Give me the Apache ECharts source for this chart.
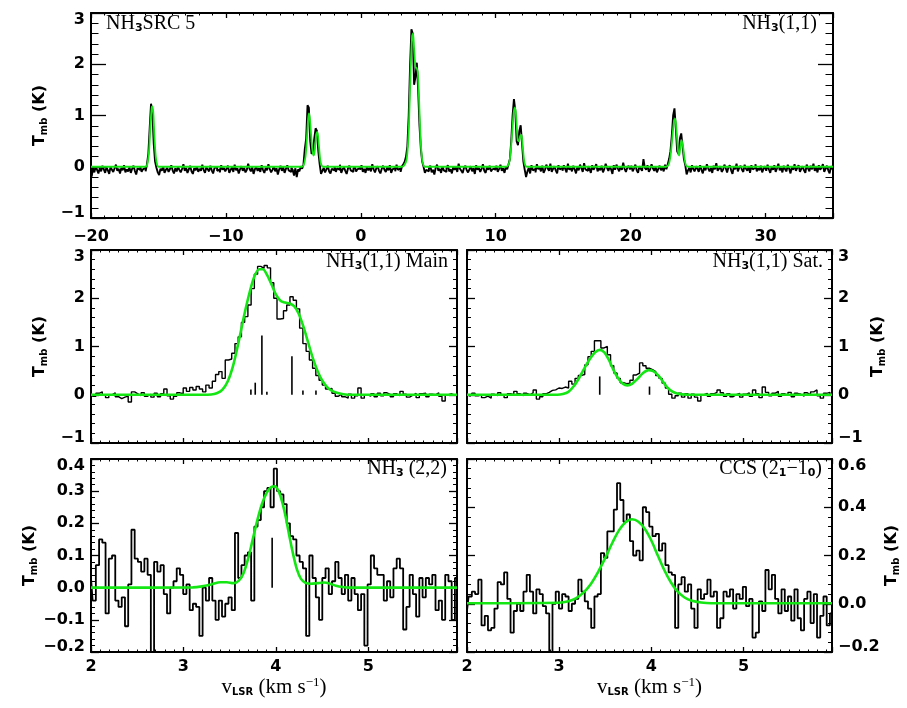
<!DOCTYPE html>
<html>
<head>
<meta charset="utf-8">
<script src="https://cdn.jsdelivr.net/npm/echarts@6/dist/echarts.min.js"></script>
<style>
  html, body { margin: 0; padding: 0; background: #fff; }
  #chartsDOM { width: 907px; height: 708px; }
</style>
</head>
<body>
<div id="chartsDOM"></div>
<script>
// NH3(1,1) full band, one channel every 0.1 km/s starting at -20 km/s
const topStart = -20;
const topStep = 0.1;
const topTmb = [
  -0.08,-0.19,-0.02,-0.11,0.01,-0.06,-0.13,-0.03,-0.09,0.02,
  -0.05,-0.12,-0.01,-0.07,-0.14,0.0,-0.06,-0.1,-0.03,0.04,
  -0.08,-0.04,-0.13,-0.02,-0.07,0.03,-0.11,-0.05,-0.09,-0.01,
  -0.12,-0.04,0.02,-0.08,-0.15,-0.03,-0.06,0.01,-0.1,-0.05,
  -0.02,-0.09,0.05,0.25,0.75,1.23,1.05,0.45,0.1,-0.02,
  -0.11,-0.16,-0.04,-0.08,0.01,-0.12,-0.06,-0.02,-0.1,-0.05,
  0.03,-0.07,-0.13,-0.03,-0.09,0.0,-0.06,-0.11,-0.04,0.05,
  -0.08,-0.02,-0.12,-0.05,0.02,-0.09,-0.14,-0.03,-0.07,0.01,
  -0.1,-0.04,-0.08,0.04,-0.06,-0.12,-0.01,-0.05,-0.09,0.02,
  -0.07,-0.13,-0.03,0.0,-0.08,-0.05,-0.11,0.03,-0.06,-0.02,
  -0.09,-0.04,0.02,-0.12,-0.06,-0.01,-0.1,0.04,-0.07,-0.03,
  -0.13,-0.05,0.01,-0.08,-0.02,-0.11,-0.06,0.06,-0.04,-0.09,
  -0.01,-0.14,-0.05,0.0,-0.08,-0.03,-0.1,0.03,-0.06,-0.12,
  -0.02,-0.07,0.05,-0.04,-0.11,-0.06,0.01,-0.09,-0.03,-0.15,
  -0.05,0.02,-0.08,-0.01,-0.12,-0.04,0.03,-0.07,-0.1,-0.02,
  -0.06,-0.17,-0.03,-0.2,-0.05,-0.09,0.01,-0.04,0.05,0.35,
  0.55,1.2,1.15,0.5,0.25,0.3,0.55,0.75,0.7,0.3,
  0.05,-0.14,-0.08,-0.02,-0.11,-0.05,0.02,-0.09,-0.13,-0.04,
  -0.07,0.01,-0.1,-0.03,-0.06,0.04,-0.12,-0.05,-0.01,-0.08,
  -0.14,-0.03,0.02,-0.07,-0.1,-0.04,0.0,-0.09,-0.05,-0.02,
  -0.06,0.03,-0.1,-0.04,-0.12,0.0,-0.07,-0.02,-0.09,0.05,
  -0.05,-0.11,-0.03,0.01,-0.08,-0.13,-0.04,0.02,-0.06,-0.1,
  -0.01,-0.07,0.03,-0.12,-0.05,-0.02,-0.09,0.04,-0.06,-0.03,
  -0.1,0.01,0.05,0.1,0.2,0.4,1.0,1.95,2.68,2.6,
  1.6,1.75,2.03,1.5,0.8,0.35,0.1,0.0,-0.12,-0.06,
  -0.09,-0.03,0.02,-0.11,-0.06,-0.15,-0.02,0.04,-0.08,-0.04,
  -0.12,0.01,-0.07,-0.1,-0.03,0.03,-0.09,-0.05,-0.13,0.0,
  -0.06,-0.01,-0.1,0.06,-0.04,-0.08,-0.12,-0.02,0.02,-0.07,
  -0.11,-0.05,0.01,-0.09,-0.03,-0.14,0.03,-0.06,-0.02,-0.1,
  -0.04,0.05,-0.08,-0.12,-0.01,-0.06,0.02,-0.09,-0.05,-0.03,
  -0.07,0.02,-0.1,-0.04,0.04,-0.08,-0.03,-0.12,0.0,-0.05,
  0.05,0.15,0.5,1.0,1.32,1.1,0.5,0.42,0.7,0.81,
  0.45,0.1,-0.06,-0.2,-0.09,-0.02,-0.13,0.03,-0.07,-0.04,
  -0.11,0.05,-0.05,-0.01,-0.09,0.02,-0.12,-0.06,0.04,-0.03,
  -0.08,0.06,-0.1,-0.04,0.01,-0.07,-0.13,0.03,-0.05,-0.02,
  -0.08,0.03,-0.04,-0.11,0.06,-0.06,-0.02,-0.09,0.02,-0.05,
  -0.13,0.0,-0.07,0.04,-0.03,-0.1,0.07,-0.05,-0.08,0.01,
  -0.04,-0.12,0.03,-0.06,-0.01,0.05,-0.09,-0.03,-0.07,0.02,
  -0.11,-0.04,0.06,-0.02,-0.08,0.0,-0.05,-0.14,0.03,-0.06,
  0.04,-0.03,-0.09,0.01,-0.06,0.08,-0.04,-0.1,-0.02,0.02,
  -0.05,0.02,-0.09,-0.03,0.04,-0.07,-0.12,0.01,-0.04,-0.08,
  0.15,-0.02,-0.06,0.03,-0.1,-0.05,0.05,-0.03,-0.08,0.0,
  -0.11,-0.04,0.02,-0.07,-0.01,-0.09,0.04,-0.05,0.05,0.15,
  0.3,0.6,1.0,1.14,0.75,0.3,0.25,0.55,0.65,0.4,
  0.15,0.03,-0.15,-0.07,-0.02,-0.11,0.03,-0.05,-0.09,0.01,
  -0.04,-0.1,0.03,-0.06,-0.13,0.0,-0.07,0.05,-0.03,-0.09,
  -0.02,-0.12,0.02,-0.05,0.07,-0.08,-0.04,0.01,-0.1,-0.06,
  0.04,-0.03,-0.11,-0.01,0.03,-0.07,-0.14,0.0,-0.05,0.06,
  -0.09,-0.02,0.02,-0.06,-0.1,0.04,-0.04,-0.08,0.01,-0.12,
  0.03,-0.05,-0.02,0.05,-0.09,-0.03,-0.07,0.02,-0.11,-0.04,
  0.01,-0.08,0.04,-0.05,-0.12,0.0,-0.06,0.03,-0.1,-0.03,
  0.06,-0.07,-0.02,-0.11,0.02,-0.05,-0.09,0.04,-0.04,-0.13,
  0.0,-0.06,0.05,-0.08,-0.02,0.03,-0.1,-0.04,0.01,-0.07,
  -0.12,0.04,-0.03,-0.09,0.02,-0.05,0.06,-0.08,-0.01,-0.11,
  0.03,-0.06,-0.02,0.05,-0.1,-0.04,0.02,-0.07,-0.13,0.01,-0.05
];
// hyperfine fit over the full band [v, T]
const topFit = [
  [-20,0],[-16.0,0],[-15.85,0.02],[-15.7,0.3],[-15.6,0.8],[-15.5,1.15],[-15.45,1.18],[-15.38,1.05],[-15.3,0.6],[-15.2,0.2],[-15.1,0.04],[-15.0,0],
  [-4.4,0],[-4.25,0.02],[-4.1,0.2],[-4.0,0.55],[-3.9,0.95],[-3.83,1.04],[-3.75,0.85],[-3.6,0.35],[-3.5,0.22],[-3.42,0.3],[-3.32,0.6],[-3.22,0.68],[-3.12,0.45],[-3.0,0.12],[-2.9,0.02],[-2.8,0],
  [3.0,0],[3.2,0.02],[3.4,0.15],[3.55,0.7],[3.68,1.8],[3.8,2.55],[3.87,2.6],[3.95,2.3],[4.05,1.95],[4.15,1.92],[4.22,1.85],[4.32,1.3],[4.42,0.6],[4.52,0.2],[4.62,0.05],[4.75,0],
  [10.7,0],[10.9,0.02],[11.05,0.15],[11.2,0.6],[11.33,1.05],[11.43,1.16],[11.52,0.95],[11.63,0.52],[11.72,0.5],[11.82,0.6],[11.9,0.62],[12.0,0.4],[12.1,0.13],[12.2,0.02],[12.35,0],
  [22.6,0],[22.8,0.03],[22.95,0.2],[23.1,0.6],[23.22,0.9],[23.3,0.94],[23.4,0.7],[23.52,0.3],[23.6,0.22],[23.7,0.42],[23.78,0.52],[23.88,0.4],[24.0,0.15],[24.1,0.03],[24.25,0],[35,0]
];

// zoomed panels, one channel every 0.035 km/s starting at 2 km/s
const zoomStart = 2;
const zoomStep = 0.035;
const mainTmb = [
  0.02,-0.03,0.03,0.06,-0.01,-0.06,0.0,0.04,-0.04,-0.08,
  -0.05,-0.03,-0.15,0.06,0.02,-0.02,0.04,-0.03,0.01,-0.05,
  0.03,-0.04,0.02,0.12,-0.02,-0.09,-0.03,0.04,0.02,0.14,
  0.07,0.15,0.1,0.17,0.12,0.06,0.2,0.14,0.28,0.42,
  0.48,0.34,0.72,0.74,0.86,1.06,1.2,1.5,1.62,1.86,
  2.2,2.5,2.66,2.62,2.68,2.63,2.32,2.0,1.57,1.58,
  1.74,1.86,2.03,1.96,1.78,1.38,1.06,0.9,0.72,0.55,
  0.4,0.3,0.2,0.12,0.13,0.03,-0.03,0.01,-0.04,-0.07,
  0.01,-0.07,-0.02,0.14,-0.07,0.0,-0.03,0.02,-0.04,0.03,
  -0.02,0.04,0.01,-0.04,0.02,-0.02,0.07,0.01,-0.05,-0.01,
  0.03,-0.06,0.02,0.03,-0.04,0.01,0.0,0.04,-0.03,-0.13,
  0.0,0.02,-0.01,0.01
];
const mainFit = [
  [2,0],[3.2,0],[3.3,0.005],[3.36,0.03],[3.42,0.1],[3.48,0.28],[3.54,0.62],[3.6,1.12],[3.66,1.67],[3.72,2.15],
  [3.77,2.46],[3.82,2.6],[3.86,2.6],[3.9,2.5],[3.95,2.3],[4.0,2.08],[4.05,1.95],[4.1,1.91],[4.15,1.89],[4.2,1.83],
  [4.25,1.67],[4.3,1.4],[4.35,1.08],[4.4,0.76],[4.45,0.5],[4.5,0.3],[4.55,0.17],[4.6,0.09],[4.66,0.04],[4.73,0.012],
  [4.82,0],[5.96,0]
];
const mainSticks = [[3.73,0.11],[3.777,0.25],[3.849,1.23],[3.903,0.06],[4.174,0.8],[4.293,0.09],[4.434,0.09]];

const satTmb = [
  0.01,-0.03,0.03,-0.02,0.0,-0.06,-0.03,-0.07,0.01,-0.02,
  0.04,-0.01,-0.06,0.02,0.0,0.07,0.02,-0.02,0.03,0.0,
  0.04,0.1,-0.09,-0.04,0.02,0.05,0.09,0.1,0.14,0.13,
  0.16,0.14,0.28,0.22,0.34,0.4,0.42,0.62,0.79,0.9,
  1.12,1.12,0.97,1.0,0.83,0.6,0.45,0.34,0.25,0.23,
  0.24,0.3,0.41,0.45,0.66,0.6,0.55,0.52,0.48,0.4,
  0.34,0.24,0.14,0.01,-0.07,-0.02,0.03,-0.05,0.02,-0.07,
  0.01,-0.05,-0.13,0.0,0.03,-0.03,0.02,0.05,0.1,0.04,
  -0.03,0.02,-0.04,0.0,0.03,-0.05,0.01,0.04,-0.03,0.1,
  0.02,-0.06,0.16,0.05,-0.02,0.03,0.07,-0.03,0.02,-0.01,
  0.05,-0.04,0.03,0.01,-0.03,0.04,0.0,0.06,0.1,-0.02,
  -0.07,0.03,0.05,0.0
];
const satFit = [
  [2,0],[2.98,0],[3.04,0.015],[3.1,0.06],[3.16,0.18],[3.22,0.36],[3.28,0.57],[3.34,0.76],[3.39,0.88],[3.44,0.93],
  [3.49,0.88],[3.54,0.72],[3.59,0.51],[3.64,0.34],[3.69,0.23],[3.74,0.195],[3.79,0.225],[3.85,0.33],[3.91,0.45],
  [3.97,0.51],[4.02,0.49],[4.07,0.41],[4.12,0.29],[4.17,0.16],[4.22,0.075],[4.27,0.03],[4.33,0.008],[4.42,0],[5.96,0]
];
const satSticks = [[3.44,0.38],[3.98,0.17]];

const nh322Tmb = [
  0.03,-0.04,0.07,0.15,0.14,-0.08,0.09,0.1,-0.04,-0.06,
  -0.03,-0.12,0.01,0.18,0.09,0.08,0.05,0.09,0.04,-0.24,
  0.08,0.05,0.07,-0.02,-0.08,0.0,0.02,0.06,0.04,-0.02,
  0.01,-0.07,-0.05,-0.06,-0.15,0.0,-0.04,0.03,-0.04,-0.1,
  -0.04,-0.09,-0.05,-0.03,-0.07,0.17,0.03,0.07,0.1,0.11,
  -0.04,0.19,0.21,0.25,0.3,0.31,0.25,0.37,0.3,0.29,
  0.26,0.2,0.16,0.15,0.1,0.08,0.06,-0.15,0.1,0.03,
  -0.03,-0.1,0.03,0.06,-0.02,0.02,0.08,0.03,-0.02,0.04,
  -0.04,0.03,-0.02,-0.07,-0.02,-0.18,0.01,0.1,0.06,0.04,
  0.04,-0.04,0.02,-0.03,0.06,0.09,0.06,-0.13,-0.06,0.04,
  -0.02,-0.09,0.03,-0.03,0.03,0.01,0.04,-0.07,-0.04,-0.1,
  0.04,0.02,-0.1,0.03
];
const nh322Fit = [
  [2,0],[3.1,0.001],[3.2,0.004],[3.3,0.01],[3.4,0.017],[3.47,0.017],[3.54,0.014],[3.6,0.022],[3.65,0.045],
  [3.7,0.09],[3.75,0.15],[3.8,0.21],[3.85,0.26],[3.9,0.295],[3.95,0.313],[3.99,0.315],[4.03,0.3],[4.07,0.265],
  [4.11,0.215],[4.15,0.155],[4.19,0.1],[4.23,0.055],[4.27,0.028],[4.32,0.015],[4.38,0.012],[4.45,0.014],
  [4.52,0.016],[4.58,0.013],[4.65,0.006],[4.72,0.002],[4.8,0],[5.96,0]
];
const nh322Sticks = [[3.96,0.155]];

const ccsTmb = [
  -0.03,0.03,0.05,0.04,0.1,-0.09,-0.05,-0.11,-0.1,-0.02,
  0.09,0.08,0.13,0.02,-0.12,-0.03,0.0,-0.03,0.05,0.12,
  0.05,-0.04,0.06,0.04,-0.01,-0.04,-0.24,0.0,0.05,-0.02,
  0.04,0.03,-0.03,0.0,0.02,0.1,0.05,0.01,-0.02,-0.1,
  0.03,0.04,0.21,0.19,0.3,0.3,0.39,0.5,0.43,0.34,
  0.37,0.26,0.2,0.22,0.18,0.4,0.38,0.32,0.28,0.29,
  0.22,0.25,0.16,0.13,0.12,-0.1,0.08,0.11,0.05,0.08,
  -0.02,-0.1,0.06,0.02,0.04,0.1,0.03,0.05,-0.1,-0.06,
  0.05,0.03,0.06,-0.02,0.04,0.02,0.07,-0.01,0.02,-0.14,
  -0.12,0.01,-0.03,0.14,0.06,0.12,0.02,-0.04,0.06,-0.03,
  0.03,-0.07,0.06,-0.06,-0.11,0.02,0.05,-0.08,0.04,-0.14,
  -0.05,0.03,-0.09,-0.04
];
const ccsFit = [
  [2,0.002],[3.0,0.004],[3.1,0.01],[3.18,0.022],[3.26,0.045],[3.34,0.08],[3.42,0.13],[3.5,0.19],[3.58,0.255],
  [3.65,0.305],[3.72,0.338],[3.79,0.35],[3.86,0.34],[3.93,0.31],[4.0,0.262],[4.07,0.2],[4.14,0.14],[4.21,0.09],
  [4.28,0.052],[4.36,0.026],[4.44,0.012],[4.54,0.005],[4.65,0.002],[5.96,0.002]
];

const black = '#000';
const green = '#14e614';
const tickFont = {fontFamily: 'DejaVu Sans', fontWeight: 'bold', fontSize: 16, color: black};
const serif = {fontFamily: 'Liberation Serif', fontWeight: 'normal', fontSize: 20, color: black};
const subFont = {fontFamily: 'DejaVu Sans', fontWeight: 'bold', fontSize: 11, color: black};

function channels(start, step, temps) {
  return temps.map((t, i) => [Math.round((start + i * step) * 1000) / 1000, t]);
}

function minus(s) {
  return String(s).replace('-', '\u2212');
}

// one bottom + one top x axis per panel (the top one only carries ticks)
function xAxes(g, min, max, interval, labels, name) {
  const common = {
    type: 'value', gridIndex: g, min: min, max: max, interval: interval,
    axisLine: {onZero: false, lineStyle: {color: black, width: 2}},
    axisTick: {inside: true, length: 5, lineStyle: {color: black, width: 1.3}},
    minorTick: {show: true, splitNumber: 10, length: 2.5, lineStyle: {color: black, width: 1}},
    splitLine: {show: false},
    minorSplitLine: {show: false}
  };
  const bottom = Object.assign({}, common, {
    position: 'bottom',
    axisLabel: labels ? Object.assign({}, tickFont, {
      show: true, margin: labels.margin, showMaxLabel: false,
      formatter: v => minus(v)
    }) : {show: false}
  });
  if (name) {
    Object.assign(bottom, {
      name: '{v|v}{sub|LSR}{v| (km s}{sup|\u22121}{v|)}',
      nameLocation: 'middle',
      nameGap: 24,
      nameTextStyle: {
        rich: {
          v: {fontFamily: 'Liberation Serif', fontSize: 21, color: black},
          sub: {fontFamily: 'DejaVu Sans', fontWeight: 'bold', fontSize: 10, color: black, padding: [9, 0, 0, 0]},
          sup: {fontFamily: 'Liberation Serif', fontSize: 13, color: black, padding: [0, 0, 10, 0]}
        }
      }
    });
  }
  const top = Object.assign({}, common, {position: 'top', axisLabel: {show: false}});
  return [bottom, top];
}

function yLabels(min, max, digits, margin) {
  return Object.assign({}, tickFont, {
    show: true, margin: margin,
    formatter: v => {
      const s = minus(v.toFixed(digits));
      if (Math.abs(v - max) < 1e-6) return '{hi|' + s + '}';
      if (Math.abs(v - min) < 1e-6) return '{lo|' + s + '}';
      return s;
    },
    rich: {
      hi: Object.assign({}, tickFont, {padding: [14, 0, 0, 0]}),
      lo: Object.assign({}, tickFont, {padding: [0, 0, 10, 0]})
    }
  });
}

const tmbName = {
  name: '{t|T}{s|mb}{t| (K)}',
  nameLocation: 'middle',
  nameRotate: 90,
  nameTextStyle: {
    rich: {
      t: Object.assign({}, tickFont),
      s: {fontFamily: 'DejaVu Sans', fontWeight: 'bold', fontSize: 10, color: black, padding: [9, 0, 0, 0]}
    }
  }
};

// left + right y axes; side says which one carries labels
function yAxes(g, min, max, interval, digits, tickLen, side, nameGap) {
  const common = {
    type: 'value', gridIndex: g, min: min, max: max, interval: interval,
    axisLine: {onZero: false, lineStyle: {color: black, width: 2}},
    axisTick: {inside: true, length: tickLen, lineStyle: {color: black, width: 1.3}},
    minorTick: {show: true, splitNumber: 5, length: tickLen / 2, lineStyle: {color: black, width: 1}},
    splitLine: {show: false},
    minorSplitLine: {show: false},
    axisLabel: {show: false}
  };
  const left = Object.assign({}, common, {position: 'left'});
  const right = Object.assign({}, common, {position: 'right'});
  const labelled = side === 'left' ? left : right;
  Object.assign(labelled, tmbName, {nameGap: nameGap, axisLabel: yLabels(min, max, digits, 6)});
  return [left, right];
}

function spectrum(g, data, width) {
  return {
    type: 'line', xAxisIndex: 2 * g, yAxisIndex: 2 * g, data: data,
    step: 'middle', symbol: 'none', lineStyle: {color: black, width: width}, z: 2
  };
}

function fit(g, data, width) {
  return {
    type: 'line', xAxisIndex: 2 * g, yAxisIndex: 2 * g, data: data,
    smooth: 0.3, symbol: 'none', lineStyle: {color: green, width: width}, z: 3
  };
}

function sticks(g, data) {
  return {
    type: 'bar', xAxisIndex: 2 * g, yAxisIndex: 2 * g, data: data,
    barWidth: 1.6, itemStyle: {color: black}, z: 4
  };
}

const chart = echarts.init(document.getElementById('chartsDOM'));

const richLabel = {a: serif, s: Object.assign({}, subFont, {padding: [9, 0, 0, 0]})};
function panelTitle(text, pos) {
  return Object.assign({
    text: text, padding: 0,
    textStyle: {fontWeight: 'normal', fontFamily: 'Liberation Serif', fontSize: 20, color: black, rich: richLabel}
  }, pos);
}

const option = {
  animation: false,
  backgroundColor: '#fff',
  title: [
    panelTitle('{a|NH}{s|3}{a|SRC 5}', {left: 106, top: 14}),
    panelTitle('{a|NH}{s|3}{a|(1,1)}', {right: 90, top: 14}),
    panelTitle('{a|NH}{s|3}{a|(1,1) Main}', {right: 459, top: 252}),
    panelTitle('{a|NH}{s|3}{a|(1,1) Sat.}', {right: 84, top: 252}),
    panelTitle('{a|NH}{s|3}{a| (2,2)}', {right: 460, top: 459}),
    panelTitle('{a|CCS (2}{s|1}{a|\u22121}{s|0}{a|)}', {right: 85, top: 459})
  ],
  grid: [
    {left: 91, top: 13, width: 742, height: 205, outerBoundsMode: 'none'},
    {left: 91, top: 250, width: 366, height: 193, outerBoundsMode: 'none'},
    {left: 467, top: 250, width: 365, height: 193, outerBoundsMode: 'none'},
    {left: 91, top: 459, width: 366, height: 193, outerBoundsMode: 'none'},
    {left: 467, top: 459, width: 365, height: 193, outerBoundsMode: 'none'}
  ],
  xAxis: [].concat(
    xAxes(0, -20, 35, 10, {margin: 11}),
    xAxes(1, 2, 5.96, 1, null),
    xAxes(2, 2, 5.96, 1, null),
    xAxes(3, 2, 5.96, 1, {margin: 7}, true),
    xAxes(4, 2, 5.96, 1, {margin: 7}, true)
  ),
  yAxis: [].concat(
    yAxes(0, -1, 3, 1, 0, 15, 'left', 42),
    yAxes(1, -1, 3, 1, 0, 8, 'left', 42),
    yAxes(2, -1, 3, 1, 0, 8, 'right', 36),
    yAxes(3, -0.2, 0.4, 0.1, 1, 8, 'left', 46),
    yAxes(4, -0.2, 0.6, 0.2, 1, 8, 'right', 42)
  ),
  series: [
    spectrum(0, channels(topStart, topStep, topTmb), 1.9),
    fit(0, topFit, 1.8),
    spectrum(1, channels(zoomStart, zoomStep, mainTmb), 1.4),
    fit(1, mainFit, 2.6),
    sticks(1, mainSticks),
    spectrum(2, channels(zoomStart, zoomStep, satTmb), 1.4),
    fit(2, satFit, 2.6),
    sticks(2, satSticks),
    spectrum(3, channels(zoomStart, zoomStep, nh322Tmb), 1.8),
    fit(3, nh322Fit, 2.6),
    sticks(3, nh322Sticks),
    spectrum(4, channels(zoomStart, zoomStep, ccsTmb), 1.8),
    fit(4, ccsFit, 2.6)
  ]
};

chart.setOption(option);
</script>
</body>
</html>
